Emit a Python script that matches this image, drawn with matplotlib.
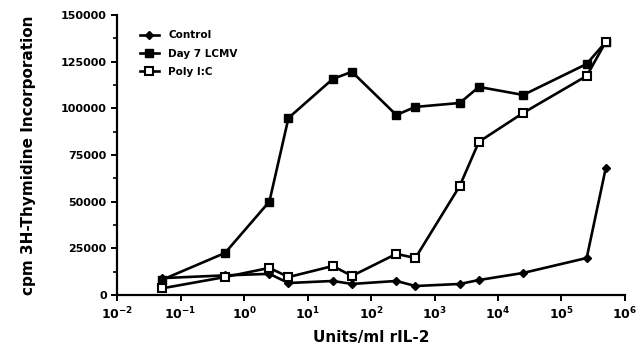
import numpy as np
import matplotlib.pyplot as plt
from matplotlib.ticker import FixedLocator, NullLocator

plt.rcParams['font.family'] = ['DejaVu Sans']
plt.rcParams['font.weight'] = 'bold'
plt.rcParams['mathtext.default'] = 'bf'

units = [0.05, 0.5, 2.5, 5, 25, 50, 250, 500, 2500, 5000, 25000, 250000, 500000]
control = [9000, 10500, 11300, 6400, 7500, 5900, 7500, 4800, 5900, 8000, 11800, 19800, 68000]
lcmv = [8000, 22500, 50000, 94800, 115700, 119500, 96400, 100700, 102800, 111400, 107100, 123700, 135500]
polyic = [3500, 9600, 14500, 9600, 15500, 10200, 22000, 19800, 58400, 82000, 97500, 117300, 135500]

ytick_vals = [0, 25000, 50000, 75000, 100000, 125000, 150000]
xtick_vals = [1e-2, 1e-1, 1e0, 1e1, 1e2, 1e3, 1e4, 1e5, 1e6]
xtick_labels = ['$10^{-2}$', '$10^{-1}$', '$10^{0}$', '$10^{1}$', '$10^{2}$',
                '$10^{3}$', '$10^{4}$', '$10^{5}$', '$10^{6}$']

fig = plt.figure(figsize=(6.37, 3.45), dpi=100)
ax = fig.add_axes([0.184, 0.145, 0.797, 0.812])

ax.plot(units, control, 'k-', marker='D', markersize=4.5, lw=1.9, label='Control')
ax.plot(units, lcmv, 'k-', marker='s', markersize=6, lw=1.9, label='Day 7 LCMV')
ax.plot(units, polyic, 'k-', marker='s', markersize=6, lw=1.9,
        markerfacecolor='white', markeredgewidth=1.5, label='Poly I:C')

ax.set_xscale('log')
ax.set_xlim(1e-2, 1e6)
ax.set_ylim(0, 150000)
ax.xaxis.set_major_locator(FixedLocator(xtick_vals))
ax.xaxis.set_minor_locator(NullLocator())
ax.set_xticklabels(xtick_labels, fontsize=9)
ax.set_yticks(ytick_vals)
ax.set_yticks([12500, 37500, 62500, 87500, 112500, 137500], minor=True)
ax.set_yticklabels([str(v) for v in ytick_vals], fontsize=8)

for s in ['top', 'right']:
    ax.spines[s].set_visible(False)
ax.spines['left'].set_linewidth(1.6)
ax.spines['bottom'].set_linewidth(1.6)
ax.tick_params(axis='both', which='major', length=4, width=1.4)
ax.tick_params(axis='y', which='minor', length=3, width=1.2)

ax.set_xlabel('Units/ml rIL-2', fontsize=11, fontweight='bold', labelpad=6)
ax.set_ylabel('cpm 3H-Thymidine Incorporation', fontsize=11, fontweight='bold', labelpad=18)

ax.legend(loc='upper left', bbox_to_anchor=(0.045, 0.945), frameon=False, fontsize=7.5,
          handlelength=1.8, labelspacing=0.8, borderpad=0, borderaxespad=0,
          handletextpad=0.9)

fig.savefig('out.png', dpi=100)
